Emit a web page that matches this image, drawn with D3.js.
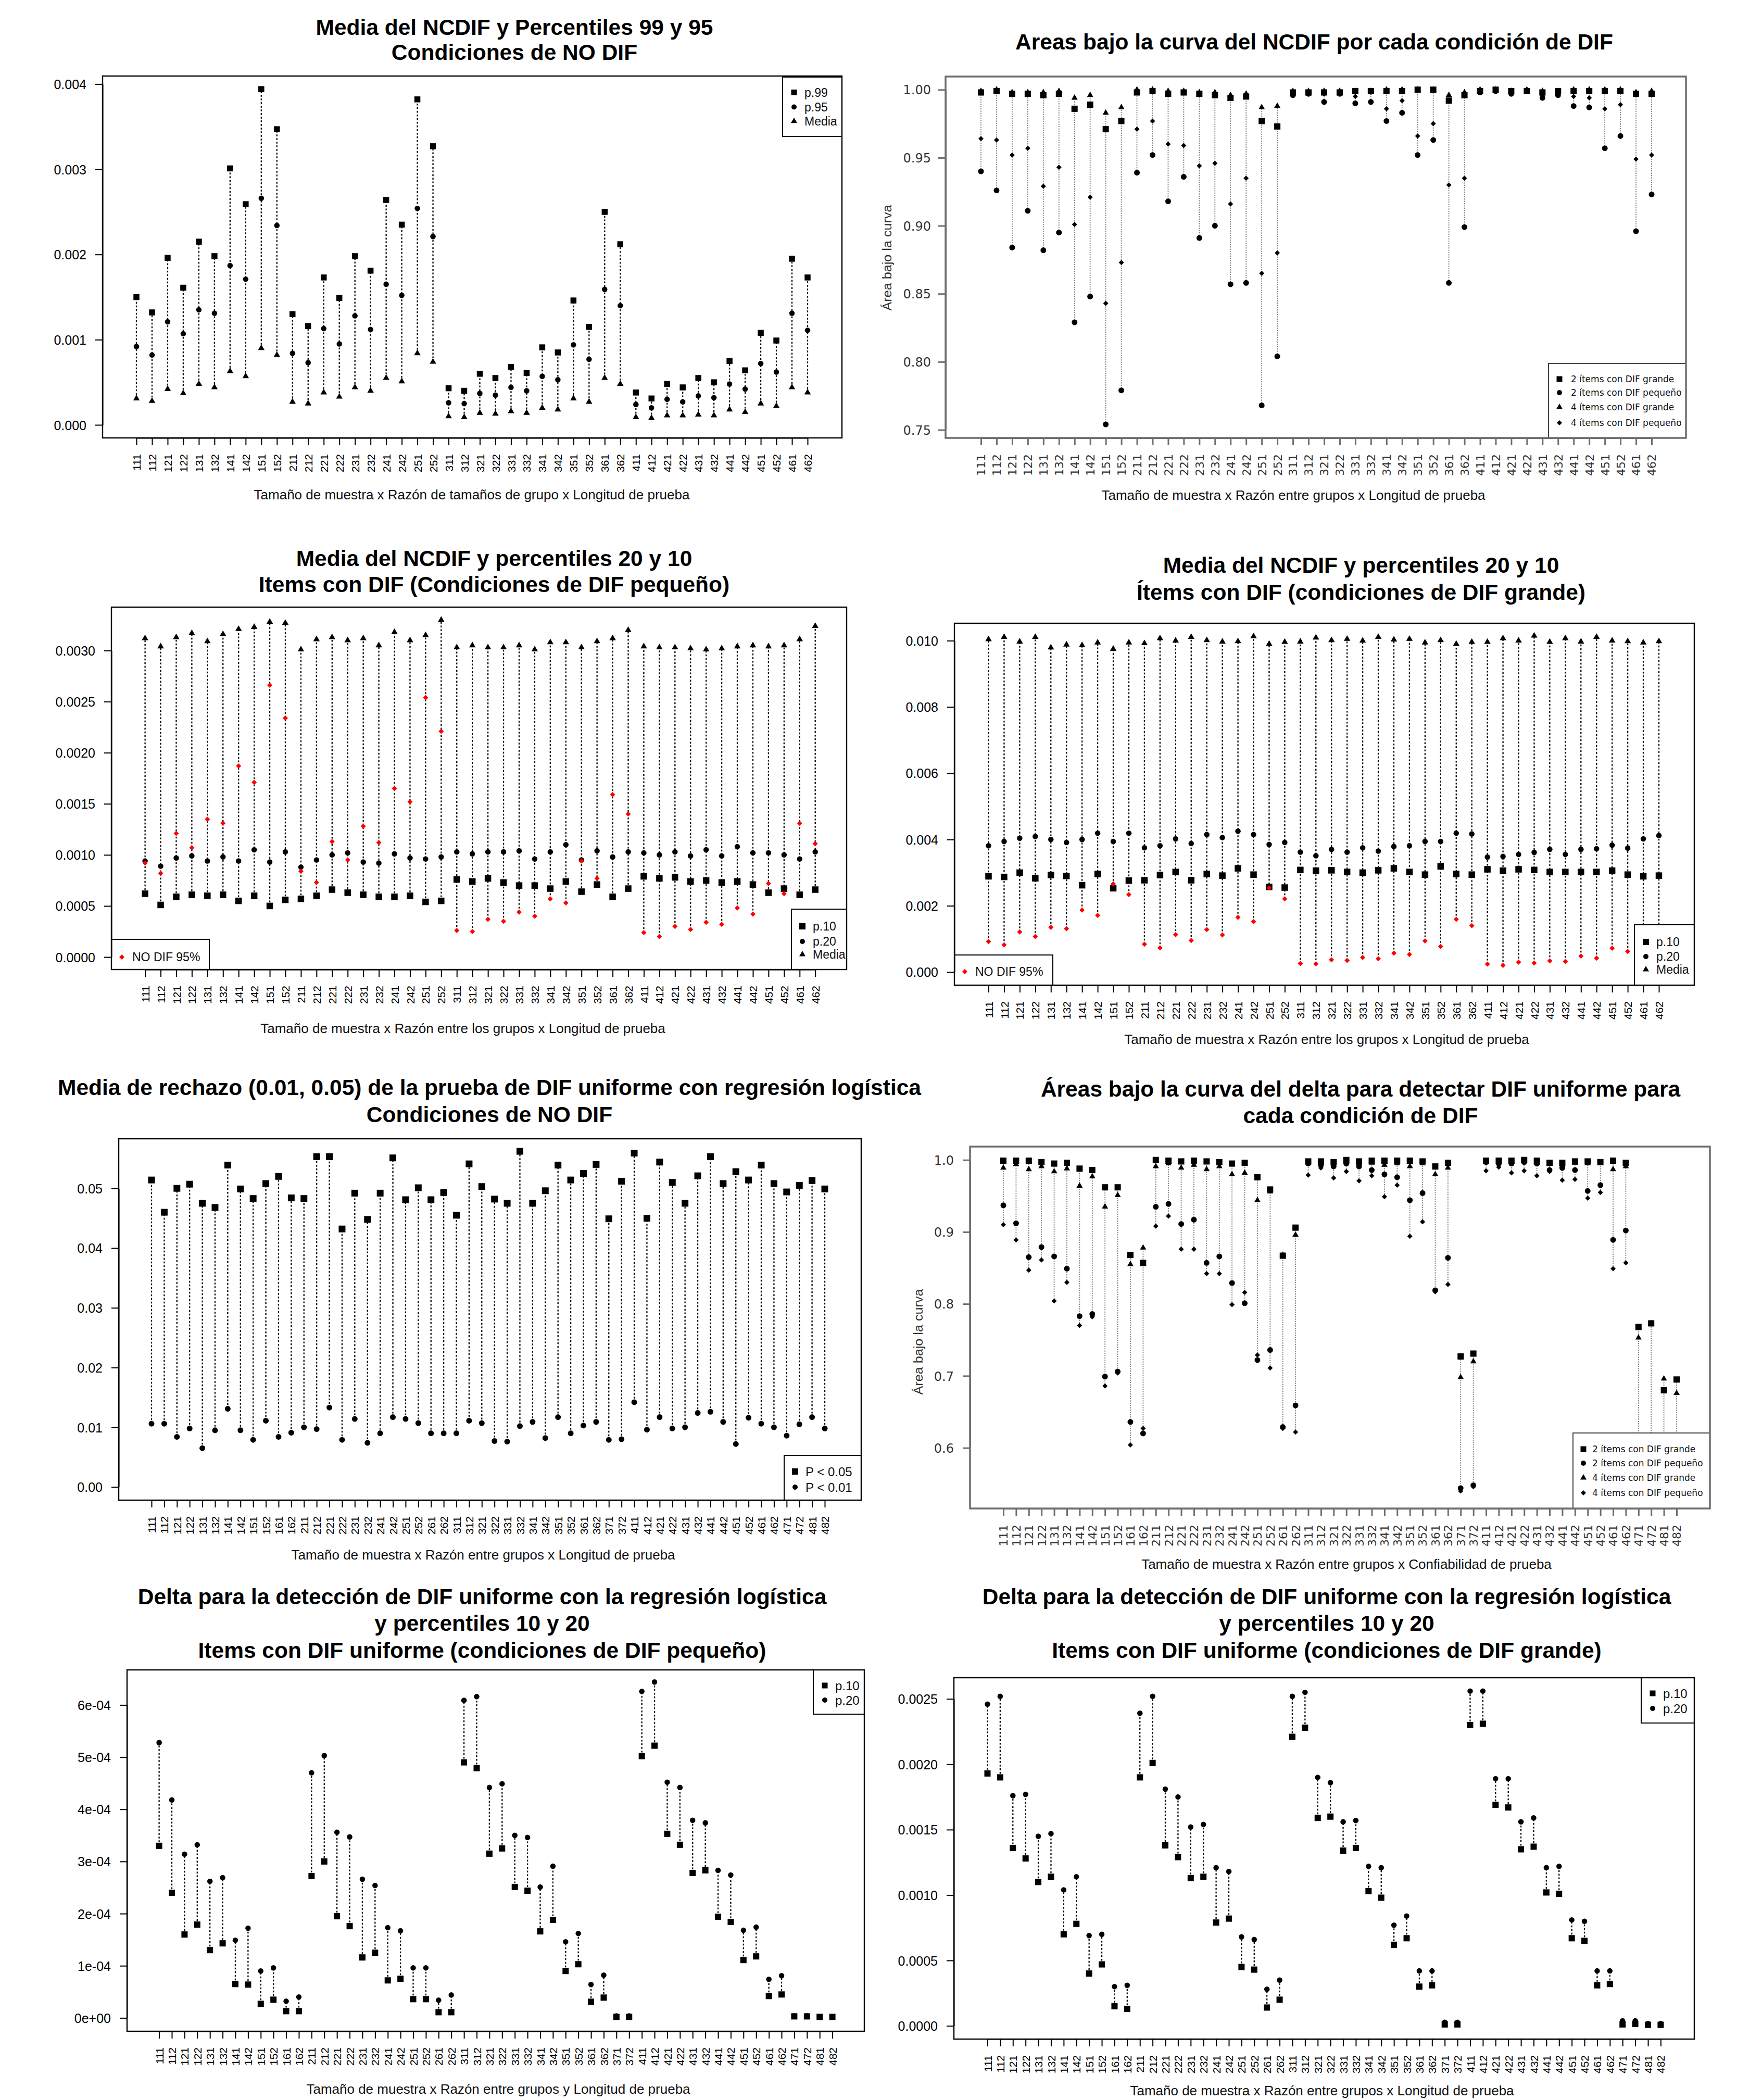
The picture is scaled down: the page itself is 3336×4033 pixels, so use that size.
<!DOCTYPE html>
<html>
<head>
<meta charset="utf-8">
<script src="https://cdn.jsdelivr.net/npm/d3@7"></script>
<style>
  body { margin: 0; background: #fff; }
</style>
</head>
<body>
<script>
// ---- Categories (tick labels on the x axes) ----
var cats44 = ["111","112","121","122","131","132","141","142","151","152",
              "211","212","221","222","231","232","241","242","251","252",
              "311","312","321","322","331","332","341","342","351","352","361","362",
              "411","412","421","422","431","432","441","442","451","452","461","462"];
var cats54 = ["111","112","121","122","131","132","141","142","151","152","161","162",
              "211","212","221","222","231","232","241","242","251","252","261","262",
              "311","312","321","322","331","332","341","342","351","352","361","362","371","372",
              "411","412","421","422","431","432","441","442","451","452","461","462","471","472","481","482"];

// ---- Y tick labels ----
var p1YTicks = [0, 0.001, 0.002, 0.003, 0.004];
var p1YLabels = ["0.000", "0.001", "0.002", "0.003", "0.004"];
var p2YTicks = [0.75, 0.80, 0.85, 0.90, 0.95, 1.00];
var p2YLabels = ["0.75", "0.80", "0.85", "0.90", "0.95", "1.00"];
var p3YTicks = [0, 0.0005, 0.001, 0.0015, 0.002, 0.0025, 0.003];
var p3YLabels = ["0.0000", "0.0005", "0.0010", "0.0015", "0.0020", "0.0025", "0.0030"];
var p4YTicks = [0, 0.002, 0.004, 0.006, 0.008, 0.010];
var p4YLabels = ["0.000", "0.002", "0.004", "0.006", "0.008", "0.010"];
var p5YTicks = [0, 0.01, 0.02, 0.03, 0.04, 0.05];
var p5YLabels = ["0.00", "0.01", "0.02", "0.03", "0.04", "0.05"];
var p6YTicks = [0.6, 0.7, 0.8, 0.9, 1.0];
var p6YLabels = ["0.6", "0.7", "0.8", "0.9", "1.0"];
var p7YTicks = [0, 1e-4, 2e-4, 3e-4, 4e-4, 5e-4, 6e-4];
var p7YLabels = ["0e+00", "1e-04", "2e-04", "3e-04", "4e-04", "5e-04", "6e-04"];
var p8YTicks = [0, 0.0005, 0.001, 0.0015, 0.002, 0.0025];
var p8YLabels = ["0.0000", "0.0005", "0.0010", "0.0015", "0.0020", "0.0025"];

// ---- Legend names ----
var p1Names = ["p.99", "p.95", "Media"];
var aucNames = ["2 ítems con DIF grande", "2 ítems con DIF pequeño", "4 ítems con DIF grande", "4 ítems con DIF pequeño"];
var pctNames = ["p.10", "p.20", "Media"];
var noDifName = "NO DIF 95%";
var rejNames = ["P < 0.05", "P < 0.01"];
var deltaNames = ["p.10", "p.20"];

// ---- NO DIF 95th percentile (same series in panels 1, 3 and 4) ----
var noDif95 = [0.00092,0.00082,0.00121,0.00107,0.00135,0.00131,0.00187,0.00171,0.00266,0.00234,
               0.00084,0.00073,0.00113,0.00095,0.00128,0.00112,0.00165,0.00152,0.00254,0.00221,
               0.00026,0.00025,0.00037,0.00035,0.00044,0.00040,0.00057,0.00053,0.00094,0.00077,0.00159,0.00140,
               0.00024,0.00020,0.00030,0.00027,0.00034,0.00032,0.00048,0.00042,0.00072,0.00062,0.00131,0.00111];

// ---- Panel 1: NO DIF, p.99 / mean ----
var p1_p99 = [0.00150,0.00132,0.00196,0.00161,0.00215,0.00198,0.00301,0.00259,0.00394,0.00347,
              0.00130,0.00116,0.00173,0.00149,0.00198,0.00181,0.00264,0.00235,0.00382,0.00327,
              0.00043,0.00040,0.00060,0.00055,0.00068,0.00061,0.00091,0.00085,0.00146,0.00115,0.00250,0.00212,
              0.00038,0.00031,0.00048,0.00044,0.00055,0.00050,0.00075,0.00064,0.00108,0.00099,0.00195,0.00173];
var p1_media = [0.00031,0.00028,0.00042,0.00037,0.00048,0.00044,0.00063,0.00057,0.00090,0.00082,
                0.00027,0.00025,0.00038,0.00033,0.00044,0.00040,0.00055,0.00051,0.00084,0.00074,
                0.00010,0.00009,0.00014,0.00013,0.00016,0.00014,0.00020,0.00018,0.00031,0.00027,0.00055,0.00048,
                0.00009,0.00008,0.00011,0.00011,0.00012,0.00011,0.00018,0.00015,0.00025,0.00022,0.00044,0.00038];

// ---- Panel 2: AUC NCDIF ----
var p2_grande2 = [0.998,0.999,0.997,0.997,0.996,0.997,0.986,0.989,0.971,0.977,
                  0.998,0.999,0.997,0.998,0.997,0.996,0.994,0.995,0.977,0.973,
                  0.998,0.998,0.998,0.998,0.999,0.999,0.999,0.999,1.000,1.000,0.992,0.996,
                  0.999,1.000,0.999,0.999,0.998,0.999,0.999,0.999,0.999,0.999,0.997,0.997];
var p2_peq2 = [0.940,0.926,0.884,0.911,0.882,0.895,0.829,0.848,0.754,0.779,
               0.939,0.952,0.918,0.936,0.891,0.900,0.857,0.858,0.768,0.804,
               0.996,0.997,0.991,0.997,0.990,0.991,0.977,0.983,0.952,0.963,0.858,0.899,
               0.998,0.999,0.997,0.999,0.994,0.996,0.988,0.987,0.957,0.966,0.896,0.923];
var p2_grande4 = [0.999,1.000,0.998,0.998,0.998,0.999,0.994,0.996,0.983,0.987,
                  1.000,1.000,0.999,0.999,0.998,0.998,0.996,0.997,0.987,0.988,
                  0.999,0.999,0.999,0.999,0.999,0.999,1.000,1.000,1.000,1.000,0.996,0.998,
                  1.000,1.000,0.999,1.000,0.999,0.999,1.000,1.000,1.000,1.000,0.998,0.999];
var p2_peq4 = [0.964,0.963,0.952,0.957,0.929,0.943,0.901,0.921,0.843,0.873,
               0.971,0.977,0.960,0.959,0.944,0.946,0.916,0.935,0.865,0.880,
               0.997,0.998,0.997,0.998,0.995,0.998,0.986,0.992,0.966,0.975,0.930,0.935,
               0.999,1.000,0.998,0.999,0.996,0.997,0.995,0.994,0.986,0.989,0.949,0.952];

// ---- Panel 3: small DIF, p.10 / p.20 / mean ----
var p3_p10 = [0.00062,0.00051,0.00059,0.00061,0.00060,0.00061,0.00055,0.00060,0.00050,0.00056,
              0.00057,0.00060,0.00066,0.00063,0.00061,0.00059,0.00059,0.00060,0.00054,0.00055,
              0.00076,0.00074,0.00077,0.00073,0.00070,0.00070,0.00067,0.00074,0.00064,0.00071,0.00059,0.00067,
              0.00079,0.00077,0.00078,0.00074,0.00075,0.00073,0.00074,0.00071,0.00063,0.00067,0.00061,0.00066];
var p3_p20 = [0.00094,0.00089,0.00097,0.00099,0.00094,0.00098,0.00094,0.00105,0.00093,0.00103,
              0.00088,0.00095,0.00100,0.00102,0.00093,0.00092,0.00101,0.00097,0.00096,0.00098,
              0.00103,0.00101,0.00103,0.00103,0.00104,0.00096,0.00103,0.00110,0.00095,0.00104,0.00098,0.00103,
              0.00102,0.00100,0.00103,0.00099,0.00105,0.00099,0.00108,0.00102,0.00102,0.00100,0.00096,0.00103];
var p3_media = [0.00312,0.00304,0.00313,0.00317,0.00309,0.00316,0.00321,0.00323,0.00328,0.00327,
                0.00301,0.00311,0.00313,0.00310,0.00312,0.00305,0.00318,0.00310,0.00315,0.00330,
                0.00303,0.00305,0.00303,0.00303,0.00305,0.00301,0.00308,0.00308,0.00303,0.00309,0.00312,0.00320,
                0.00304,0.00303,0.00303,0.00302,0.00301,0.00302,0.00304,0.00305,0.00304,0.00305,0.00311,0.00324];

// ---- Panel 4: large DIF, p.10 / p.20 / mean ----
var p4_p10 = [0.00289,0.00287,0.00300,0.00283,0.00293,0.00290,0.00262,0.00296,0.00253,0.00276,
              0.00277,0.00293,0.00302,0.00277,0.00296,0.00291,0.00313,0.00294,0.00257,0.00255,
              0.00308,0.00306,0.00307,0.00302,0.00300,0.00307,0.00313,0.00302,0.00294,0.00319,0.00296,0.00294,
              0.00310,0.00306,0.00310,0.00308,0.00302,0.00302,0.00302,0.00302,0.00306,0.00294,0.00289,0.00291];
var p4_p20 = [0.00381,0.00394,0.00404,0.00409,0.00400,0.00391,0.00400,0.00419,0.00394,0.00419,
              0.00375,0.00381,0.00402,0.00388,0.00415,0.00406,0.00425,0.00415,0.00385,0.00391,
              0.00362,0.00351,0.00370,0.00362,0.00375,0.00365,0.00379,0.00381,0.00394,0.00394,0.00419,0.00417,
              0.00347,0.00349,0.00355,0.00361,0.00370,0.00355,0.00370,0.00372,0.00383,0.00374,0.00402,0.00412];
var p4_media = [0.01004,0.01011,0.00997,0.01011,0.00979,0.00988,0.00986,0.00994,0.00975,0.00994,
                0.00992,0.01007,0.01000,0.01011,0.01001,0.00997,0.00998,0.01013,0.00990,0.00996,
                0.00997,0.01009,0.01001,0.01005,0.01000,0.01011,0.01003,0.01005,0.00994,0.01001,0.00990,0.00996,
                0.00996,0.01007,0.01000,0.01015,0.00996,0.01007,0.00997,0.01011,0.01000,0.00998,0.00994,0.00998];

// ---- Panel 5: rejection rate, NO DIF ----
var p5_p05 = [0.0514,0.0460,0.0500,0.0507,0.0475,0.0468,0.0539,0.0499,0.0483,0.0508,0.0520,0.0484,
              0.0483,0.0553,0.0553,0.0432,0.0492,0.0448,0.0492,0.0551,0.0481,0.0501,0.0481,0.0493,
              0.0455,0.0541,0.0503,0.0482,0.0475,0.0562,0.0475,0.0496,0.0539,0.0514,0.0525,0.0540,0.0449,0.0512,
              0.0559,0.0450,0.0544,0.0510,0.0475,0.0521,0.0553,0.0508,0.0528,0.0514,0.0539,0.0508,0.0494,0.0505,0.0513,0.0499];
var p5_p01 = [0.0106,0.0106,0.0084,0.0098,0.0065,0.0095,0.0131,0.0095,0.0079,0.0111,0.0084,0.0091,
              0.0100,0.0097,0.0133,0.0079,0.0114,0.0074,0.0090,0.0117,0.0114,0.0107,0.0090,0.0090,
              0.0090,0.0111,0.0107,0.0077,0.0076,0.0102,0.0109,0.0082,0.0117,0.0090,0.0103,0.0109,0.0079,0.0080,
              0.0142,0.0096,0.0117,0.0098,0.0100,0.0124,0.0126,0.0109,0.0072,0.0116,0.0106,0.0100,0.0086,0.0105,0.0117,0.0098];

// ---- Panel 6: AUC delta ----
var p6_grande2 = [0.999,0.999,0.999,0.997,0.995,0.996,0.988,0.986,0.962,0.962,0.868,0.857,
                  1.000,0.999,0.998,0.999,0.998,0.997,0.995,0.996,0.976,0.959,0.867,0.906,
                  0.998,0.998,0.997,1.000,0.998,0.999,0.999,0.999,0.999,0.998,0.991,0.996,0.727,0.731,
                  0.999,0.999,0.999,1.000,0.999,0.996,0.996,0.998,0.998,0.997,0.999,0.996,0.768,0.773,0.680,0.695];
var p6_peq2 = [0.937,0.912,0.865,0.879,0.866,0.849,0.783,0.786,0.699,0.706,0.636,0.620,
               0.935,0.939,0.911,0.917,0.857,0.866,0.829,0.801,0.722,0.736,0.629,0.659,
               0.995,0.993,0.991,0.995,0.991,0.986,0.980,0.976,0.944,0.954,0.819,0.864,0.544,0.548,
               0.997,0.995,0.995,0.997,0.995,0.986,0.989,0.986,0.957,0.965,0.889,0.902,0.560,0.570,0.550,0.550];
var p6_grande4 = [0.989,0.994,0.987,0.991,0.984,0.988,0.964,0.977,0.935,0.951,0.855,0.878,
                  0.991,0.995,0.989,0.993,0.987,0.991,0.980,0.982,0.944,0.956,0.868,0.896,
                  0.997,0.995,0.995,0.997,0.995,0.996,0.993,0.995,0.991,0.995,0.980,0.989,0.698,0.720,
                  0.998,0.998,0.997,0.998,0.996,0.995,0.992,0.996,0.995,0.995,0.987,0.991,0.753,0.773,0.696,0.676];
var p6_peq4 = [0.910,0.889,0.847,0.861,0.804,0.830,0.770,0.782,0.686,0.704,0.604,0.627,
               0.908,0.922,0.876,0.876,0.842,0.842,0.799,0.816,0.729,0.711,0.627,0.622,
               0.979,0.989,0.975,0.984,0.971,0.978,0.949,0.965,0.894,0.914,0.817,0.827,0.540,0.546,
               0.985,0.990,0.982,0.985,0.978,0.984,0.972,0.973,0.947,0.955,0.849,0.857,0.550,0.560,0.540,0.540];

// ---- Panel 7: delta, small DIF ----
var p7_p10 = [3.30e-4,2.40e-4,1.60e-4,1.79e-4,1.30e-4,1.43e-4,6.5e-5,6.4e-5,2.7e-5,3.5e-5,1.3e-5,1.3e-5,
              2.72e-4,3.00e-4,1.95e-4,1.76e-4,1.16e-4,1.25e-4,7.2e-5,7.5e-5,3.6e-5,3.6e-5,1.1e-5,1.1e-5,
              4.90e-4,4.79e-4,3.15e-4,3.25e-4,2.51e-4,2.44e-4,1.66e-4,1.88e-4,9.0e-5,1.03e-4,3.1e-5,3.9e-5,2e-6,2e-6,
              5.02e-4,5.22e-4,3.53e-4,3.32e-4,2.78e-4,2.83e-4,1.94e-4,1.84e-4,1.11e-4,1.18e-4,4.2e-5,4.5e-5,3e-6,3e-6,2e-6,2e-6];
var p7_p20 = [5.28e-4,4.18e-4,3.14e-4,3.32e-4,2.62e-4,2.69e-4,1.49e-4,1.72e-4,9.0e-5,9.6e-5,3.2e-5,4.0e-5,
              4.70e-4,5.03e-4,3.56e-4,3.47e-4,2.66e-4,2.54e-4,1.73e-4,1.67e-4,9.6e-5,9.6e-5,3.4e-5,4.4e-5,
              6.09e-4,6.16e-4,4.42e-4,4.49e-4,3.50e-4,3.46e-4,2.51e-4,2.91e-4,1.46e-4,1.62e-4,6.4e-5,8.2e-5,4e-6,4e-6,
              6.26e-4,6.44e-4,4.52e-4,4.42e-4,3.79e-4,3.74e-4,2.83e-4,2.74e-4,1.68e-4,1.74e-4,7.4e-5,8.1e-5,4e-6,4e-6,2e-6,2e-6];

// ---- Panel 8: delta, large DIF ----
var p8_p10 = [0.00193,0.00190,0.00136,0.00128,0.00110,0.00114,0.00070,0.00078,0.00040,0.00047,0.00015,0.00013,
              0.00190,0.00201,0.00138,0.00129,0.00113,0.00114,0.00079,0.00082,0.00045,0.00043,0.00014,0.00020,
              0.00221,0.00228,0.00159,0.00160,0.00134,0.00136,0.00103,0.00098,0.00062,0.00067,0.00030,0.00031,0.000011,0.000011,
              0.00230,0.00231,0.00169,0.00167,0.00135,0.00137,0.00102,0.00101,0.00067,0.00065,0.00031,0.00032,0.000011,0.000015,0.000008,0.000008];
var p8_p20 = [0.00246,0.00252,0.00176,0.00177,0.00145,0.00147,0.00104,0.00114,0.00069,0.00070,0.00030,0.00031,
              0.00239,0.00252,0.00181,0.00175,0.00152,0.00154,0.00121,0.00118,0.00068,0.00066,0.00028,0.00035,
              0.00252,0.00255,0.00190,0.00186,0.00156,0.00157,0.00122,0.00121,0.00077,0.00084,0.00042,0.00042,0.000027,0.000027,
              0.00256,0.00256,0.00189,0.00189,0.00156,0.00159,0.00121,0.00122,0.00081,0.00080,0.00042,0.00042,0.000038,0.000038,0.000017,0.000017];

// ---- Styles ----
var ARIAL = "'Liberation Sans', Arial, Helvetica, sans-serif";
var DEJAVU = "'DejaVu Sans', Verdana, sans-serif";

var plainStyle = {
    boxColor: "#000", boxWidth: 2.4,
    tickFont: ARIAL, tickSize: 25, xTickSize: 21, tickColor: "#000",
    connColor: "#000", connWidth: 2.3, connDash: "3.5,3.5",
    legendStroke: "#000", legendWidth: 2, legendFont: ARIAL
};
var grayStyle = {
    boxColor: "#6e6e6e", boxWidth: 3.5,
    tickFont: DEJAVU, tickSize: 24, xTickSize: 22, tickColor: "#333",
    connColor: "#7a7a7a", connWidth: 1.8, connDash: "2.2,2.2",
    legendStroke: "#444", legendWidth: 2, legendFont: DEJAVU
};

// R-like filled plotting symbols (pch 15, 16, 17, 18)
var rDiamond = {
    draw: function(ctx, size) {
        var r = Math.sqrt(size / 2);
        ctx.moveTo(0, -r); ctx.lineTo(r, 0); ctx.lineTo(0, r); ctx.lineTo(-r, 0); ctx.closePath();
    }
};
function symbolPath(shape, s) {
    if (shape === "square") return d3.symbol().type(d3.symbolSquare).size(s * s)();
    if (shape === "circle") return d3.symbol().type(d3.symbolCircle).size(Math.PI * s * s / 4)();
    if (shape === "triangle") return d3.symbol().type(d3.symbolTriangle).size(Math.sqrt(3) / 4 * s * s)();
    return d3.symbol().type(rDiamond).size(s * s / 2)();
}

// ---- Canvas ----
var svg = d3.select("body").append("svg")
    .attr("width", 3336)
    .attr("height", 4033);
svg.append("rect").attr("width", 3336).attr("height", 4033).attr("fill", "#fff");

function drawLegend(g, lg, st) {
    var b = lg.box;
    g.append("rect")
        .attr("x", b[0]).attr("y", b[1])
        .attr("width", b[2] - b[0]).attr("height", b[3] - b[1])
        .attr("fill", "#fff")
        .attr("stroke", st.legendStroke)
        .attr("stroke-width", st.legendWidth);
    lg.items.forEach(function(it) {
        g.append("path")
            .attr("transform", "translate(" + lg.symX + "," + it.y + ")")
            .attr("d", symbolPath(it.shape, it.size))
            .attr("fill", it.color || "#000");
        g.append("text")
            .attr("x", lg.textX).attr("y", it.y).attr("dy", "0.36em")
            .attr("font-family", st.legendFont)
            .attr("font-size", lg.fs)
            .attr("fill", "#111")
            .text(it.label);
    });
}

function drawPanel(p) {
    var st = p.gray ? grayStyle : plainStyle;
    var g = svg.append("g");
    var b = p.box;

    var x = d3.scalePoint().domain(p.cats).range([p.xFirst, p.xLast]);
    var y = d3.scaleLinear().domain(p.yDom).range(p.yRange);

    // vertical dotted connector from lowest to highest value per condition
    g.append("g").selectAll("line")
        .data(p.cats)
        .join("line")
        .attr("x1", function(d) { return x(d); })
        .attr("x2", function(d) { return x(d); })
        .attr("y1", function(d, i) { return y(d3.min(p.series, function(s) { return s.values[i]; })); })
        .attr("y2", function(d, i) { return y(d3.max(p.series, function(s) { return s.values[i]; })); })
        .attr("stroke", st.connColor)
        .attr("stroke-width", st.connWidth)
        .attr("stroke-dasharray", st.connDash);

    // markers
    p.series.forEach(function(s) {
        var path = symbolPath(s.shape, s.size);
        g.append("g").selectAll("path")
            .data(s.values)
            .join("path")
            .attr("transform", function(d, i) { return "translate(" + x(p.cats[i]) + "," + y(d) + ")"; })
            .attr("d", path)
            .attr("fill", s.color || "#000");
    });

    // legends (white background, drawn over data as in R)
    p.legends.forEach(function(lg) { drawLegend(g, lg, st); });

    // plot box
    g.append("rect")
        .attr("x", b[0]).attr("y", b[1])
        .attr("width", b[2] - b[0]).attr("height", b[3] - b[1])
        .attr("fill", "none")
        .attr("stroke", st.boxColor)
        .attr("stroke-width", st.boxWidth);

    // y axis
    var yAxis = g.append("g")
        .attr("transform", "translate(" + b[0] + ",0)")
        .call(d3.axisLeft(y)
            .tickValues(p.yTicks)
            .tickFormat(function(d, i) { return p.yLabels[i]; })
            .tickSize(14).tickSizeOuter(0)
            .tickPadding(p.labelPad));
    yAxis.attr("font-family", st.tickFont).attr("font-size", st.tickSize);
    yAxis.selectAll("line, path").attr("stroke", st.boxColor).attr("stroke-width", st.boxWidth * 0.85);
    yAxis.selectAll("text").attr("fill", st.tickColor).attr("dy", "0.36em");

    // x axis with vertical labels
    var xAxis = g.append("g")
        .attr("transform", "translate(0," + b[3] + ")")
        .call(d3.axisBottom(x).tickSize(14).tickSizeOuter(0));
    xAxis.attr("font-family", st.tickFont).attr("font-size", st.xTickSize);
    xAxis.selectAll("line, path").attr("stroke", st.boxColor).attr("stroke-width", st.boxWidth * 0.85);
    xAxis.selectAll("text")
        .attr("transform", "rotate(-90)")
        .attr("x", -31).attr("y", 0).attr("dy", "0.36em")
        .attr("fill", st.tickColor)
        .style("text-anchor", "end");

    // titles
    p.titles.forEach(function(t) {
        g.append("text")
            .attr("x", p.titleX).attr("y", t[1])
            .attr("text-anchor", "middle")
            .attr("font-family", ARIAL)
            .attr("font-weight", "bold")
            .attr("font-size", 42.5)
            .attr("fill", "#000")
            .text(t[0]);
    });

    // x axis title
    g.append("text")
        .attr("x", p.xTitle[1]).attr("y", p.xTitle[2])
        .attr("text-anchor", "middle")
        .attr("font-family", ARIAL)
        .attr("font-size", 26)
        .attr("fill", "#111")
        .text(p.xTitle[0]);

    // y axis title (only the AUC panels)
    if (p.yTitle) {
        g.append("text")
            .attr("transform", "translate(" + p.yTitle[1] + "," + p.yTitle[2] + ") rotate(-90)")
            .attr("text-anchor", "middle")
            .attr("dy", "0.36em")
            .attr("font-family", ARIAL)
            .attr("font-size", 23)
            .attr("textLength", 203)
            .attr("lengthAdjust", "spacingAndGlyphs")
            .attr("fill", "#333")
            .text(p.yTitle[0]);
    }
}

var panels = [
    {   // 1
        box: [197, 146, 1617, 841], cats: cats44, xFirst: 262, xLast: 1551,
        yDom: [0, 0.004], yRange: [816, 161.4], yTicks: p1YTicks, yLabels: p1YLabels, labelPad: 17,
        gray: false,
        series: [
            { values: p1_p99, shape: "square", size: 11.5 },
            { values: noDif95, shape: "circle", size: 10.5 },
            { values: p1_media, shape: "triangle", size: 12.5 }
        ],
        titleX: 988,
        titles: [["Media del NCDIF y Percentiles 99 y 95", 67], ["Condiciones de NO DIF", 115]],
        xTitle: ["Tamaño de muestra x Razón de tamaños de grupo x Longitud de prueba", 906, 959],
        legends: [{ box: [1503, 148, 1617, 262], symX: 1525, textX: 1545, fs: 23, items: [
            { shape: "square", size: 11, label: p1Names[0], y: 177.5 },
            { shape: "circle", size: 10, label: p1Names[1], y: 205.4 },
            { shape: "triangle", size: 12, label: p1Names[2], y: 232.7 }
        ]}]
    },
    {   // 2
        box: [1816, 147, 3238, 841], cats: cats44, xFirst: 1884, xLast: 3172,
        yDom: [0.75, 1.00], yRange: [825.5, 172.3], yTicks: p2YTicks, yLabels: p2YLabels, labelPad: 14,
        gray: true,
        series: [
            { values: p2_grande2, shape: "square", size: 12 },
            { values: p2_peq2, shape: "circle", size: 11 },
            { values: p2_grande4, shape: "triangle", size: 12 },
            { values: p2_peq4, shape: "diamond", size: 10 }
        ],
        titleX: 2524,
        titles: [["Areas bajo la curva del NCDIF por cada condición de DIF", 95]],
        xTitle: ["Tamaño de muestra x Razón entre grupos x Longitud de prueba", 2484, 960],
        yTitle: ["Área bajo la curva", 1704, 495],
        legends: [{ box: [2974, 698, 3238, 841], symX: 2995, textX: 3017, fs: 17, items: [
            { shape: "square", size: 11, label: aucNames[0], y: 728 },
            { shape: "circle", size: 10, label: aucNames[1], y: 754 },
            { shape: "triangle", size: 12, label: aucNames[2], y: 782 },
            { shape: "diamond", size: 10, label: aucNames[3], y: 812 }
        ]}]
    },
    {   // 3
        box: [214, 1166, 1626, 1862], cats: cats44, xFirst: 278.6, xLast: 1565.7,
        yDom: [0, 0.003], yRange: [1838, 1249.4], yTicks: p3YTicks, yLabels: p3YLabels, labelPad: 17,
        gray: false,
        series: [
            { values: p3_p10, shape: "square", size: 12.5 },
            { values: p3_p20, shape: "circle", size: 10.5 },
            { values: p3_media, shape: "triangle", size: 12.5 },
            { values: noDif95, shape: "diamond", size: 10, color: "#ff0000" }
        ],
        titleX: 949,
        titles: [["Media del NCDIF y percentiles 20 y 10", 1087], ["Items con DIF (Condiciones de DIF pequeño)", 1137]],
        xTitle: ["Tamaño de muestra x Razón entre los grupos x Longitud de prueba", 889, 1984],
        legends: [
            { box: [214, 1804, 402, 1862], symX: 234, textX: 254, fs: 23, items: [
                { shape: "diamond", size: 10, color: "#ff0000", label: noDifName, y: 1838 }
            ]},
            { box: [1520, 1746, 1626, 1862], symX: 1541, textX: 1561, fs: 23, items: [
                { shape: "square", size: 12, label: pctNames[0], y: 1779 },
                { shape: "circle", size: 10, label: pctNames[1], y: 1808 },
                { shape: "triangle", size: 12, label: pctNames[2], y: 1833 }
            ]}
        ]
    },
    {   // 4
        box: [1833, 1197, 3254, 1892], cats: cats44, xFirst: 1898.5, xLast: 3186,
        yDom: [0, 0.010], yRange: [1866.8, 1230.4], yTicks: p4YTicks, yLabels: p4YLabels, labelPad: 17,
        gray: false,
        series: [
            { values: p4_p10, shape: "square", size: 12.5 },
            { values: p4_p20, shape: "circle", size: 10.5 },
            { values: p4_media, shape: "triangle", size: 12.5 },
            { values: noDif95, shape: "diamond", size: 10, color: "#ff0000" }
        ],
        titleX: 2614,
        titles: [["Media del NCDIF y percentiles 20 y 10", 1100], ["Ítems con DIF (condiciones de DIF grande)", 1152]],
        xTitle: ["Tamaño de muestra x Razón entre los grupos x Longitud de prueba", 2548, 2005],
        legends: [
            { box: [1833, 1834, 2022, 1892], symX: 1853, textX: 1873, fs: 23, items: [
                { shape: "diamond", size: 10, color: "#ff0000", label: noDifName, y: 1866 }
            ]},
            { box: [3139, 1776, 3254, 1892], symX: 3161, textX: 3181, fs: 23, items: [
                { shape: "square", size: 12, label: pctNames[0], y: 1809 },
                { shape: "circle", size: 10, label: pctNames[1], y: 1837 },
                { shape: "triangle", size: 12, label: pctNames[2], y: 1862 }
            ]}
        ]
    },
    {   // 5
        box: [228, 2187, 1654, 2881], cats: cats54, xFirst: 291, xLast: 1584,
        yDom: [0, 0.05], yRange: [2855.8, 2282.2], yTicks: p5YTicks, yLabels: p5YLabels, labelPad: 17,
        gray: false,
        series: [
            { values: p5_p05, shape: "square", size: 13 },
            { values: p5_p01, shape: "circle", size: 11 }
        ],
        titleX: 940,
        titles: [["Media de rechazo (0.01, 0.05) de la prueba de DIF uniforme con regresión logística", 2103],
                 ["Condiciones de NO DIF", 2155]],
        xTitle: ["Tamaño de muestra x Razón entre grupos x Longitud de prueba", 928, 2995],
        legends: [{ box: [1506, 2795, 1654, 2881], symX: 1527, textX: 1547, fs: 24, items: [
            { shape: "square", size: 12, label: rejNames[0], y: 2826 },
            { shape: "circle", size: 10, label: rejNames[1], y: 2856 }
        ]}]
    },
    {   // 6
        box: [1863, 2202, 3284, 2897], cats: cats54, xFirst: 1927, xLast: 3220,
        yDom: [0.6, 1.0], yRange: [2780.6, 2227.7], yTicks: p6YTicks, yLabels: p6YLabels, labelPad: 17,
        gray: true,
        series: [
            { values: p6_grande2, shape: "square", size: 12 },
            { values: p6_peq2, shape: "circle", size: 11 },
            { values: p6_grande4, shape: "triangle", size: 12 },
            { values: p6_peq4, shape: "diamond", size: 10 }
        ],
        titleX: 2613,
        titles: [["Áreas bajo la curva del delta para detectar DIF uniforme para", 2106], ["cada condición de DIF", 2157]],
        xTitle: ["Tamaño de muestra x Razón entre grupos x Confiabilidad de prueba", 2586, 3013],
        yTitle: ["Área bajo la curva", 1764, 2577],
        legends: [{ box: [3021, 2752, 3284, 2897], symX: 3041, textX: 3058, fs: 17, items: [
            { shape: "square", size: 11, label: aucNames[0], y: 2783 },
            { shape: "circle", size: 10, label: aucNames[1], y: 2810 },
            { shape: "triangle", size: 12, label: aucNames[2], y: 2838 },
            { shape: "diamond", size: 10, label: aucNames[3], y: 2867 }
        ]}]
    },
    {   // 7
        box: [244, 3207, 1660, 3901], cats: cats54, xFirst: 305.6, xLast: 1598.6,
        yDom: [0, 6e-4], yRange: [3875.4, 3274.4], yTicks: p7YTicks, yLabels: p7YLabels, labelPad: 17,
        gray: false,
        series: [
            { values: p7_p10, shape: "square", size: 12 },
            { values: p7_p20, shape: "circle", size: 10.5 }
        ],
        titleX: 926,
        titles: [["Delta para la detección de DIF uniforme con la regresión logística", 3081],
                 ["y percentiles 10 y 20", 3132],
                 ["Items con DIF uniforme (condiciones de DIF pequeño)", 3184]],
        xTitle: ["Tamaño de muestra x Razón entre grupos y Longitud de prueba", 957, 4021],
        legends: [{ box: [1562, 3207, 1660, 3292], symX: 1584, textX: 1604, fs: 24, items: [
            { shape: "square", size: 11, label: deltaNames[0], y: 3237 },
            { shape: "circle", size: 10, label: deltaNames[1], y: 3265 }
        ]}]
    },
    {   // 8
        box: [1832, 3222, 3254, 3916], cats: cats54, xFirst: 1896.5, xLast: 3189.4,
        yDom: [0, 0.0025], yRange: [3890.6, 3262.7], yTicks: p8YTicks, yLabels: p8YLabels, labelPad: 17,
        gray: false,
        series: [
            { values: p8_p10, shape: "square", size: 12 },
            { values: p8_p20, shape: "circle", size: 10.5 }
        ],
        titleX: 2548,
        titles: [["Delta para la detección de DIF uniforme con la regresión logística", 3081],
                 ["y percentiles 10 y 20", 3132],
                 ["Items con DIF uniforme (condiciones de DIF grande)", 3184]],
        xTitle: ["Tamaño de muestra x Razón entre grupos x Longitud de prueba", 2539, 4024],
        legends: [{ box: [3152, 3222, 3254, 3309], symX: 3174, textX: 3194, fs: 24, items: [
            { shape: "square", size: 11, label: deltaNames[0], y: 3252 },
            { shape: "circle", size: 10, label: deltaNames[1], y: 3281 }
        ]}]
    }
];

panels.forEach(drawPanel);
</script>
</body>
</html>
